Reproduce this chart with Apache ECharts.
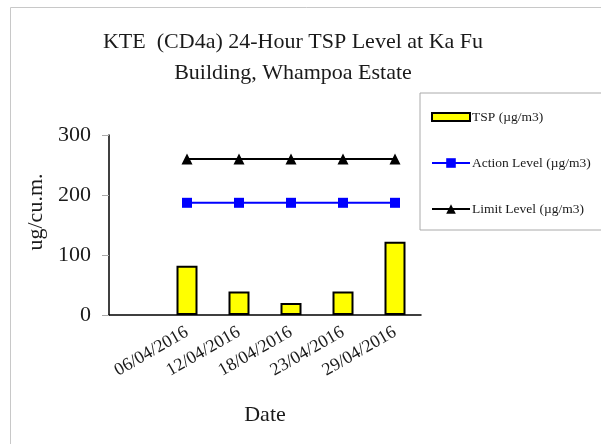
<!DOCTYPE html>
<html>
<head>
<meta charset="utf-8">
<script src="https://cdn.jsdelivr.net/npm/echarts@6/dist/echarts.min.js"></script>
<style>
  html, body { margin: 0; padding: 0; background: #fff; }
  #chart { width: 601px; height: 444px; }
</style>
</head>
<body>
<div id="chart"></div>
<script>
// 数据
var dates = ['', '06/04/2016', '12/04/2016', '18/04/2016', '23/04/2016', '29/04/2016']
var tspValues = [null, 82, 39, 20, 39, 122]
var actionLevel = [null, 187, 187, 187, 187, 187]
var limitLevel = [null, 260, 260, 260, 260, 260]
var yTicks = [0, 100, 200, 300]

var serif = 'Liberation Serif'
var chart = echarts.init(document.getElementById('chart'))
chart.setOption({
  animation: false,
  graphic: [
    {
      type: 'rect',
      shape: { x: 10.5, y: 7.5, width: 620, height: 460 },
      style: { fill: 'none', stroke: '#c8c8c8', lineWidth: 1 },
      silent: true
    }
  ],
  title: {
    text: 'KTE  (CD4a) 24-Hour TSP Level at Ka Fu\nBuilding, Whampoa Estate',
    left: 288,
    textAlign: 'center',
    top: 22,
    textStyle: {
      fontFamily: serif,
      fontWeight: 'normal',
      fontSize: 22,
      lineHeight: 31,
      color: '#1a1a1a'
    }
  },
  legend: {
    orient: 'vertical',
    left: 420,
    top: 93,
    padding: [17, 30, 14, 11],
    itemGap: 32,
    itemWidth: 38,
    itemHeight: 12,
    borderColor: '#aaa',
    borderWidth: 1,
    textStyle: { fontFamily: serif, fontSize: 13.5, color: '#1a1a1a', padding: [0, 0, 0, -3] },
    data: [
      { name: 'TSP (µg/m3)', icon: 'path://M0,0 L38,0 L38,8 L0,8 Z' },
      { name: 'Action Level (µg/m3)' },
      { name: 'Limit Level (µg/m3)' }
    ]
  },
  grid: {
    left: 109,
    right: 180,
    top: 135,
    bottom: 129
  },
  xAxis: {
    type: 'category',
    data: dates,
    name: 'Date',
    nameLocation: 'middle',
    nameGap: 89,
    nameTextStyle: { fontFamily: serif, fontSize: 22, color: '#1a1a1a' },
    axisLine: { lineStyle: { color: '#000', width: 1.5 } },
    axisTick: { inside: true, length: 4, lineStyle: { color: '#aaa' } },
    axisLabel: {
      rotate: 30,
      interval: 0,
      margin: 16,
      fontFamily: serif,
      fontSize: 18,
      color: '#1a1a1a'
    }
  },
  yAxis: {
    type: 'value',
    min: yTicks[0],
    max: yTicks[yTicks.length - 1],
    interval: 100,
    name: 'ug/cu.m.',
    nameLocation: 'middle',
    nameGap: 61,
    nameTextStyle: { fontFamily: serif, fontSize: 22, color: '#1a1a1a', padding: [0, 0, 0, 26] },
    axisLine: { show: true, lineStyle: { color: '#000', width: 1.5 } },
    axisTick: { show: true, length: 7, lineStyle: { color: '#aaa' } },
    axisLabel: { fontFamily: serif, fontSize: 22, color: '#1a1a1a', margin: 18 },
    splitLine: { show: false }
  },
  series: [
    {
      name: 'TSP (µg/m3)',
      type: 'bar',
      barWidth: 21,
      data: tspValues,
      itemStyle: { color: '#ffff00', borderColor: '#000', borderWidth: 2 }
    },
    {
      name: 'Action Level (µg/m3)',
      type: 'line',
      data: actionLevel,
      symbol: 'rect',
      symbolSize: 10,
      itemStyle: { color: '#0000ff' },
      lineStyle: { color: '#0000ff', width: 2 }
    },
    {
      name: 'Limit Level (µg/m3)',
      type: 'line',
      data: limitLevel,
      symbol: 'triangle',
      symbolSize: 11,
      itemStyle: { color: '#000' },
      lineStyle: { color: '#000', width: 2 }
    }
  ]
})
</script>
</body>
</html>
